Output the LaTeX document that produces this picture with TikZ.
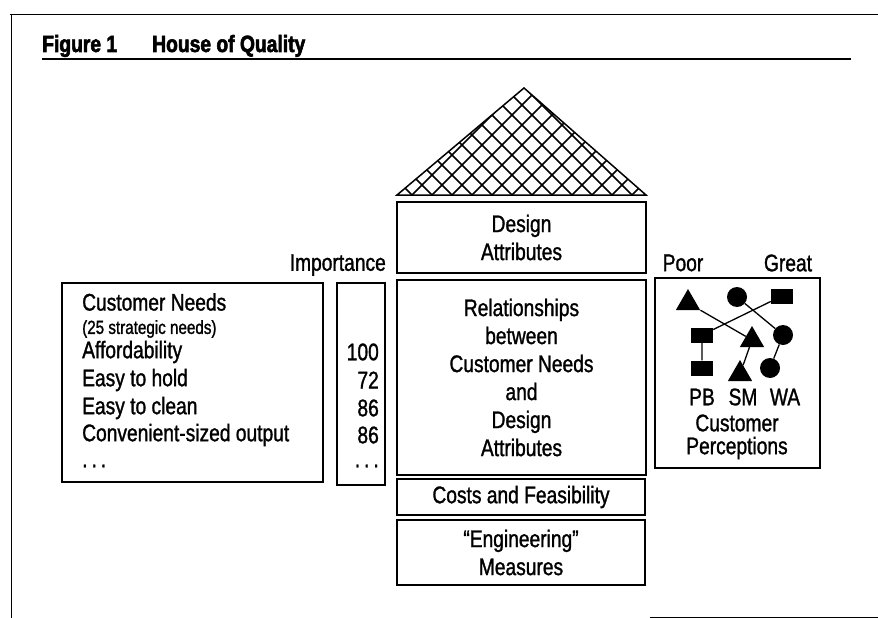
\documentclass[tikz,border=0pt]{standalone}
\usepackage{fontspec}
\setmainfont{Liberation Sans}[FakeStretch=0.8, FakeBold=1.2]
\newfontfamily\titlefont{Liberation Sans}[FakeStretch=0.82, FakeBold=2.5]
\usetikzlibrary{shapes.geometric}
\tikzset{
  box/.style={draw, line width=1.3pt, inner sep=0pt, align=center, font=\fontsize{24}{28}\selectfont},
  lbl/.style={inner sep=0pt, font=\fontsize{24}{28}\selectfont},
  sq/.style={fill, rectangle, minimum width=22pt, minimum height=15pt, inner sep=0pt},
  disc/.style={fill, circle, minimum size=20pt, inner sep=0pt},
  tri/.style={fill, regular polygon, regular polygon sides=3, minimum size=28pt, inner sep=0pt},
  link/.style={line width=1.3pt}
}
\begin{document}
\begin{tikzpicture}[x=1pt, y=-1pt]
    \useasboundingbox (0,0) rectangle (878,618);
    \draw [line width=1pt] (10,15) -- (878,15);
    \draw [line width=1pt] (11,15) -- (11,618);
    \draw [line width=1.2pt] (42,59) -- (851,59);
    \draw [line width=0.8pt] (650,617) -- (878,617);
    \node [anchor=base west, inner sep=0pt, font=\titlefont\bfseries\fontsize{23.5}{26}\selectfont] (fig) at (42,52) {Figure 1};
    \node [anchor=base west, inner sep=0pt, font=\titlefont\bfseries\fontsize{23.5}{26}\selectfont] (title) at (152,52) {House of Quality};

    \coordinate (apex) at (524,88);
    \coordinate (eaveL) at (397,195);
    \coordinate (eaveR) at (646,195);
    \begin{scope}
        \clip (eaveL) -- (apex) -- (eaveR) -- cycle;
        \foreach \x in {392,412,...,652} {
            \draw [line width=1.6pt] (\x,195) -- ++(-120,-120);
            \draw [line width=1.6pt] (\x,195) -- ++(120,-120);
        }
    \end{scope}
    \draw [line width=1.5pt] (eaveL) -- (apex) -- (eaveR) -- cycle;

    \node [box, minimum width=249pt, minimum height=71pt] (design) at (521.5,237.5) {Design\\Attributes};
    \node [box, minimum width=249pt, minimum height=195pt] (rel) at (521.5,377.5) {Relationships\\between\\Customer Needs\\and\\Design\\Attributes};
    \node [box, minimum width=248pt, minimum height=36pt] (costs) at (521,497) {Costs and Feasibility};
    \node [box, minimum width=248pt, minimum height=65pt] (eng) at (521,552.5) {“Engineering”\\Measures};
    \node [box, minimum width=261pt, minimum height=199pt] (needs) at (192.5,382.5) {};
    \node [box, minimum width=48pt, minimum height=202pt] (imp) at (361,384) {};
    \node [box, minimum width=165pt, minimum height=190pt] (perc) at (737.5,373) {};

    \node [lbl, anchor=east] (imphead) at (386,265) {Importance};
    \node [lbl] (poor) at (683,263) {Poor};
    \node [lbl] (great) at (788,263) {Great};

    \node [lbl, anchor=west] (cn) at (82,302) {Customer Needs};
    \node [lbl, anchor=west, font=\fontsize{19}{22}\selectfont] (cn25) at (82,329) {(25 strategic needs)};
    \foreach \y/\need/\score [count=\i] in {352/Affordability/100, 380/Easy to hold/72, 408/Easy to clean/86, 435/Convenient-sized output/86} {
        \node [lbl, anchor=west] (need\i) at (82,\y) {\need};
        \node [lbl, anchor=east] (score\i) at (379,\y) {\score};
    }
    \node [lbl, anchor=west] (needmore) at (82,466) {.\,.\,.};
    \node [lbl, anchor=east] (scoremore) at (379,466) {.\,.\,.};

    \node [tri] (sm1) at (688,303) {};
    \node [disc] (wa1) at (737,297) {};
    \node [sq] (pb1) at (782,296) {};
    \node [sq] (pb2) at (702,335) {};
    \node [tri] (sm2) at (752,340) {};
    \node [disc] (wa2) at (783,335) {};
    \node [sq] (pb3) at (702,368) {};
    \node [tri] (sm3) at (740,374) {};
    \node [disc] (wa3) at (770,368) {};
    \draw [link] (sm1) -- (sm2) -- (sm3);
    \draw [link] (wa1) -- (wa2) -- (wa3);
    \draw [link] (pb1) -- (pb2) -- (pb3);

    \node [lbl] (pb) at (702,397) {PB};
    \node [lbl] (sm) at (743,397) {SM};
    \node [lbl] (wa) at (785,397) {WA};
    \node [lbl] (cust) at (737,423) {Customer};
    \node [lbl] (percep) at (737,448) {Perceptions};
\end{tikzpicture}
\end{document}
